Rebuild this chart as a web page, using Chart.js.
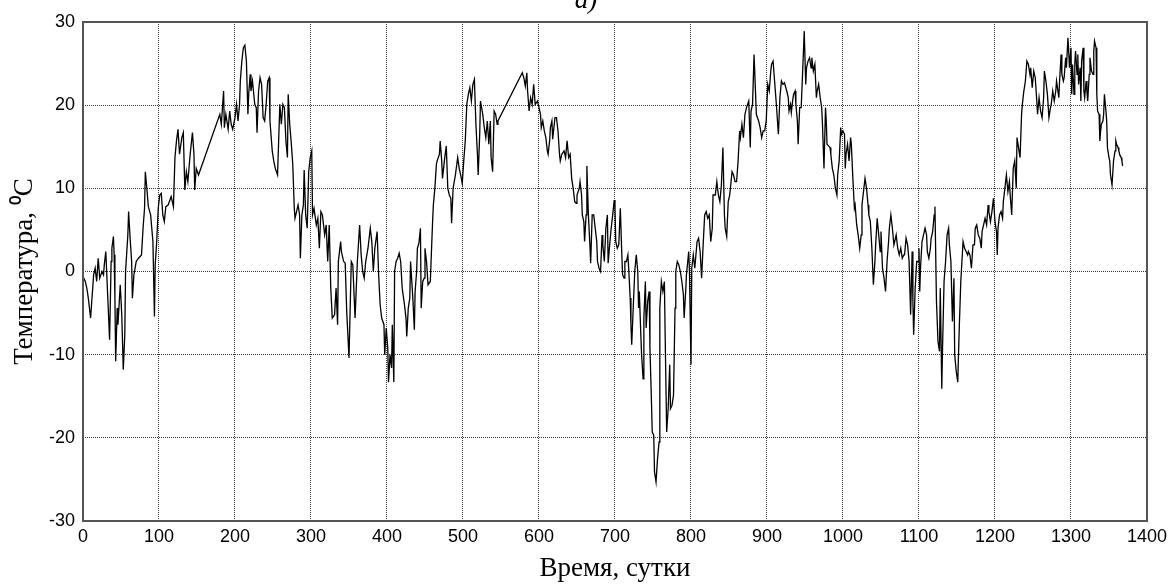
<!DOCTYPE html>
<html>
<head>
<meta charset="utf-8">
<script src="https://cdn.jsdelivr.net/npm/chart.js@4/dist/chart.umd.min.js"></script>
<style>
  html, body { margin: 0; padding: 0; background: #fff; }
  #wrap { width: 1172px; height: 587px; }
</style>
</head>
<body>
<div id="wrap"><canvas id="chart" width="1172" height="587"></canvas></div>
<script>
// Daily air temperature series, days since start of record
const days = [
  0,3,5,7,10,14,16,18,20,22,25,27,28,30,33,35,37,38,40,41,42,43,45,46,49,51,53,55,56,59,
  60,62,64,65,67,70,73,77,79,81,82,84,86,89,92,94,95,97,99,101,103,105,107,109,112,116,119,121,123,125,
  127,130,132,134,136,138,141,144,146,147,149,152,
  180,182,185,186,188,191,193,195,197,200,202,204,206,207,209,211,213,215,217,218,220,221,223,226,228,229,
  231,233,235,237,239,241,243,245,246,249,251,253,256,259,261,263,265,267,269,270,272,274,276,278,279,281,
  283,285,286,288,290,291,293,295,297,299,301,302,304,307,309,311,313,315,318,320,322,324,326,328,331,333,
  335,336,339,340,343,345,347,350,353,355,358,
  361,364,366,368,370,372,375,378,380,382,384,387,389,391,393,396,397,399,401,402,404,406,407,409,410,412,
  414,416,418,420,423,425,426,428,430,431,434,436,437,439,440,442,444,445,447,449,450,452,454,457,458,460,
  461,463,465,466,469,470,472,473,476,478,480,482,484,485,487,490,493,495,497,499,501,503,505,507,509,511,
  513,515,517,519,520,522,523,526,528,530,532,534,536,537,539,541,543,545,546,
  578,580,582,584,585,587,589,591,593,595,598,600,602,603,605,607,609,611,612,614,615,617,618,621,623,625,
  627,628,630,633,635,637,639,641,643,645,647,649,650,653,654,656,657,659,660,662,663,665,667,668,670,672,
  674,676,677,679,681,683,684,686,688,690,691,693,695,697,699,700,701,703,705,707,709,710,712,713,715,717,
  718,720,721,722,724,726,728,730,
  731,732,734,735,737,738,740,741,743,745,746,748,749,751,752,754,756,758,759,761,763,765,766,768,770,772,
  773,775,777,779,780,782,784,786,788,790,791,793,794,797,798,800,801,803,805,808,810,812,814,816,818,820,
  822,824,826,828,829,832,834,836,838,840,842,844,845,847,849,851,854,856,858,860,862,864,865,867,869,871,
  873,876,878,879,881,883,885,886,889,891,893,895,897,899,901,903,905,906,908,910,912,915,
  917,919,921,923,926,928,929,931,932,934,935,937,938,940,941,943,945,948,949,951,952,954,956,958,959,961,
  963,965,966,968,970,972,973,975,977,978,979,981,983,984,986,988,990,992,993,995,997,998,1000,1002,1003,1004,
  1006,1008,1010,1011,1013,1015,1016,1018,1020,1022,1024,1025,1027,1029,1031,1033,1034,1036,1038,1040,1042,1043,1045,1047,1049,1050,
  1052,1054,1056,1058,1060,1061,1063,1065,1067,1069,1070,1072,1074,1076,1078,1080,1081,1083,1085,1087,1089,1091,1092,1093,1095,1097,
  1099,1100,
  1101,1102,1104,1106,1108,1110,1111,1113,1115,1116,1118,1120,1121,1123,1125,1127,1128,1130,1131,1133,1135,1137,1139,1140,1142,1144,
  1146,1147,1149,1151,1153,1155,1156,1158,1160,1162,1164,1165,1167,1169,1171,1173,1174,1176,1178,1180,1182,1183,1185,1187,1189,1191,
  1192,1194,1196,1198,1200,1202,1203,1204,1206,1208,1210,1211,1213,1215,1217,1219,1220,1222,1224,1226,1228,1229,1231,1233,1235,1236,
  1238,1240,1242,1244,1246,1247,1249,1251,1253,1255,1256,1258,1260,1262,1264,1265,1267,1269,1271,1273,1274,1276,
  1278,1280,1281,1284,1285,1287,1288,1290,1291,1293,1294,1296,1297,1298,1300,1301,1302,1304,1305,1306,1308,1309,1310,1312,1313,1314,
  1316,1317,1318,1320,1321,1322,1324,1325,1327,1329,1330,1331,1333,1334,1335,1337,1338,1339,1340,1342,1343,1344,1346,1347,1348,1350,
  1351,1352,1354,1355,1356,1358,1359,1360,1362,1363,1364,1366,1367,1368
];

// Mean daily temperature, degrees Celsius
const temps = [
  -0.6,-1.2,-2.0,-3.2,-5.6,-0.4,0.4,-1.2,1.6,-0.8,0,-0.4,0.8,2.4,-4.0,-8.2,1.2,2.8,4.2,2.0,-3.2,-10.8,-4.4,-6.4,-1.6,-5.2,-11.8,-7.6,0,4.4,
  7.2,4.0,1.2,-3.2,-0.4,1.2,1.6,2.0,5.2,7.6,12.0,10.0,7.8,6.8,3.6,-5.4,0.8,3.6,7.6,9.2,9.4,6.8,6.0,7.8,8.0,9.0,7.8,13.7,15.7,17.1,
  14.1,16.1,16.7,9.8,12.0,10.8,14.1,16.7,14.1,9.8,12.4,11.6,
  18.9,17.7,21.7,17.3,18.9,17.1,19.3,17.7,17.1,18.5,20.1,18.1,20.1,22.9,25.3,26.9,27.2,25.3,18.9,21.3,23.7,21.7,22.9,20.1,19.7,16.7,
  21.7,23.3,22.5,18.5,18.1,20.1,22.9,23.3,18.1,14.5,13.3,12.4,11.6,20.1,17.7,20.1,19.7,15.7,13.7,21.3,17.7,15.5,12.9,7.6,6.4,7.2,
  8.0,6.8,1.6,6.8,8.0,12.2,6.8,5.2,12.0,13.7,14.5,6.8,7.6,5.6,6.4,2.8,7.2,6.8,4.4,5.6,1.2,5.6,-2.0,-5.6,-5.2,-2.0,
  -6.4,1.2,3.6,2.4,1.2,1.0,-4.8,-10.4,1.2,0.8,-5.6,
  1.2,5.6,2.0,0,-0.8,1.2,2.8,5.2,3.6,0,2.8,4.8,-0.4,-4.0,-5.6,-6.4,-10.0,-6.8,-9.2,-13.3,-10.0,-11.6,-6.4,-13.3,0,1.2,
  1.6,2.2,1.2,-2.0,-4.0,-5.6,-7.8,-4.4,-3.2,1.2,-3.2,-7.0,-2.4,0,2.8,3.4,5.2,-4.4,-1.2,-0.8,2.8,1.2,-1.6,-1.2,1.2,6.0,
  8.0,10.0,12.9,13.3,14.1,15.7,13.3,11.2,13.7,15.1,10.0,9.2,8.8,5.8,10.0,11.6,13.7,12.4,11.6,10.6,13.3,15.7,20.1,21.3,22.1,20.5,
  22.5,23.1,17.7,14.1,11.6,16.5,20.5,18.9,17.3,16.1,18.1,15.3,18.1,13.7,12.0,19.3,18.9,17.7,18.1,
  23.9,23.3,22.3,23.9,21.7,19.3,20.9,20.1,22.5,20.1,20.5,19.7,18.9,17.3,18.1,16.9,16.1,14.5,14.1,15.7,17.3,18.1,15.9,18.5,18.5,16.9,
  14.1,13.3,14.1,14.5,13.7,15.7,13.7,14.1,11.2,10.0,8.4,8.2,9.2,10.0,10.8,9.2,6.8,6.0,3.6,6.8,12.7,6.8,3.2,1.0,6.8,6.8,
  5.2,3.6,1.2,0.4,0,4.4,3.2,1.2,5.2,6.8,1.0,3.2,5.2,6.8,8.6,7.6,3.6,2.8,3.2,7.6,2.0,-0.4,-0.8,1.2,1.2,2.0,
  0.4,-3.2,-6.4,-8.8,-4.4,0,2.0,0,
  -4.4,-2.4,-7.6,-10.0,-12.9,-5.6,-1.2,-6.8,-3.6,-2.4,-9.2,-15.7,-19.3,-19.7,-24.1,-25.3,-22.5,-20.5,-4.4,-1.2,-2.4,-1.2,-7.6,-19.3,-16.5,-11.2,
  -16.5,-16.1,-14.9,-4.4,0,1.2,0.8,0,-1.2,-2.8,-5.6,-2.4,-0.4,2.4,0,-11.2,0.4,2.0,0.4,3.6,4.0,2.4,-0.8,3.2,6.8,7.2,
  6.4,6.8,3.6,5.2,9.2,9.2,10.8,9.2,8.4,10.4,14.9,6.8,5.2,4.2,8.4,9.2,12.0,11.6,10.8,10.8,13.3,16.9,16.1,17.7,16.1,18.9,
  19.7,20.5,14.9,19.3,20.1,26.1,21.3,18.9,18.1,17.3,16.1,16.9,16.9,18.1,22.5,21.7,24.1,24.9,25.3,22.9,20.5,16.5,
  20.9,22.9,22.5,22.7,21.7,20.9,19.3,20.1,19.1,20.7,21.3,21.7,20.1,18.1,15.3,19.7,19.7,26.5,28.9,22.5,24.5,25.3,25.7,24.5,25.7,24.1,
  24.9,20.9,21.7,22.5,20.9,19.7,17.7,12.4,19.7,18.1,15.3,15.1,14.9,14.1,12.4,11.6,10.0,9.2,11.6,13.3,17.3,16.5,16.9,16.5,12.4,14.1,
  15.3,13.3,16.1,15.3,11.2,7.6,8.0,5.6,4.4,2.8,4.4,8.0,9.6,11.2,10.0,8.0,6.8,6.0,2.8,-1.6,1.2,3.2,6.4,4.4,2.4,4.8,
  0.4,-0.8,-2.4,1.2,3.6,5.2,6.8,5.2,3.2,4.0,4.4,2.8,2.0,2.8,1.6,2.0,2.0,4.0,3.2,1.2,-5.2,2.4,-3.6,-7.6,-2.0,1.2,
  1.2,2.8,
  -2.4,0.4,3.6,4.4,5.2,4.4,2.4,1.6,2.8,4.0,4.8,6.8,7.8,-3.6,-8.4,-9.6,-2.0,-14.1,-9.2,-1.2,1.2,4.4,5.2,3.2,1.2,-6.0,
  -0.8,-10.0,-12.0,-13.3,-6.8,-1.2,0.4,3.6,2.8,2.4,2.0,2.4,2.0,0.4,3.2,3.2,5.2,5.6,4.4,4.0,2.8,4.8,5.6,6.4,5.6,8.0,
  7.2,6.0,7.2,8.8,6.0,4.8,2.0,5.2,6.8,7.2,6.4,8.4,10.0,11.6,9.6,10.8,9.2,6.8,12.4,13.3,10.0,16.1,14.9,13.7,18.9,20.1,
  21.7,22.9,25.3,24.9,23.7,24.5,22.1,24.1,23.3,20.5,18.9,20.9,19.3,18.5,20.9,24.1,22.9,21.3,18.5,19.7,20.1,21.7,
  20.5,21.7,22.9,20.9,22.9,26.1,23.7,22.9,23.3,25.7,24.5,28.1,26.5,24.5,26.9,21.3,24.9,21.3,24.9,26.5,23.7,26.1,22.5,24.5,20.5,25.3,
  26.9,21.7,20.9,22.9,21.7,20.5,23.7,25.7,24.1,23.7,26.5,27.7,26.9,21.3,19.3,18.9,15.7,16.9,17.7,18.1,18.9,21.3,19.3,18.1,14.9,13.7,
  13.3,11.6,10.4,10.4,13.3,14.5,15.7,15.3,14.9,14.5,14.1,13.7,13.3,12.7
];

// Axis ranges and tick steps
const xRange = [0, 1400];
const xStep = 100;
const yRange = [-30, 30];
const yStep = 10;

const panelLabel = 'а)';
const xTitle = 'Время, сутки';
const yTitle = 'Температура, ⁰C';

const points = days.map((d, i) => ({ x: d, y: temps[i] }));

// Plot frame and the partially visible panel letter
const framePlugin = {
  id: 'frame',
  afterDraw(chart) {
    const { ctx, chartArea: a } = chart;
    ctx.save();
    ctx.strokeStyle = '#555';
    ctx.lineWidth = 2;
    ctx.strokeRect(a.left, a.top, a.right - a.left, a.bottom - a.top);
    ctx.fillStyle = '#000';
    ctx.font = 'italic 27px "Liberation Serif", "Times New Roman", serif';
    ctx.textAlign = 'center';
    ctx.textBaseline = 'alphabetic';
    ctx.fillText(panelLabel, 586, 8);
    ctx.restore();
  }
};

const tickFont = { family: '"Liberation Sans", Arial, sans-serif', size: 18 };
const titleFont = { family: '"Liberation Serif", "Times New Roman", serif', size: 27 };
const gridStyle = { color: '#3a3a3a', lineWidth: 1, drawTicks: false };
const plainNumber = (v) => String(v);

new Chart(document.getElementById('chart'), {
  type: 'line',
  data: {
    datasets: [{
      data: points,
      borderColor: '#000',
      borderWidth: 1.3,
      pointRadius: 0,
      tension: 0,
      fill: false
    }]
  },
  options: {
    responsive: false,
    animation: false,
    devicePixelRatio: 1,
    layout: { padding: { top: 22, right: 22, left: 0, bottom: 0 } },
    plugins: {
      legend: { display: false },
      tooltip: { enabled: false },
      title: { display: false }
    },
    scales: {
      x: {
        type: 'linear',
        min: xRange[0],
        max: xRange[1],
        ticks: { stepSize: xStep, color: '#000', font: tickFont, padding: 5, maxRotation: 0, callback: plainNumber },
        grid: gridStyle,
        border: { display: false, dash: [1, 1] },
        title: { display: true, text: xTitle, color: '#000', font: titleFont, padding: { top: 0, bottom: 2 } },
        afterFit(scale) { scale.height = 66; }
      },
      y: {
        type: 'linear',
        min: yRange[0],
        max: yRange[1],
        ticks: { stepSize: yStep, color: '#000', font: tickFont, padding: 8, callback: plainNumber },
        grid: gridStyle,
        border: { display: false, dash: [1, 1] },
        title: { display: true, text: yTitle, color: '#000', font: titleFont, padding: { top: 9, bottom: 0 } },
        afterFit(scale) { scale.width = 83; }
      }
    }
  },
  plugins: [framePlugin]
});
</script>
</body>
</html>
